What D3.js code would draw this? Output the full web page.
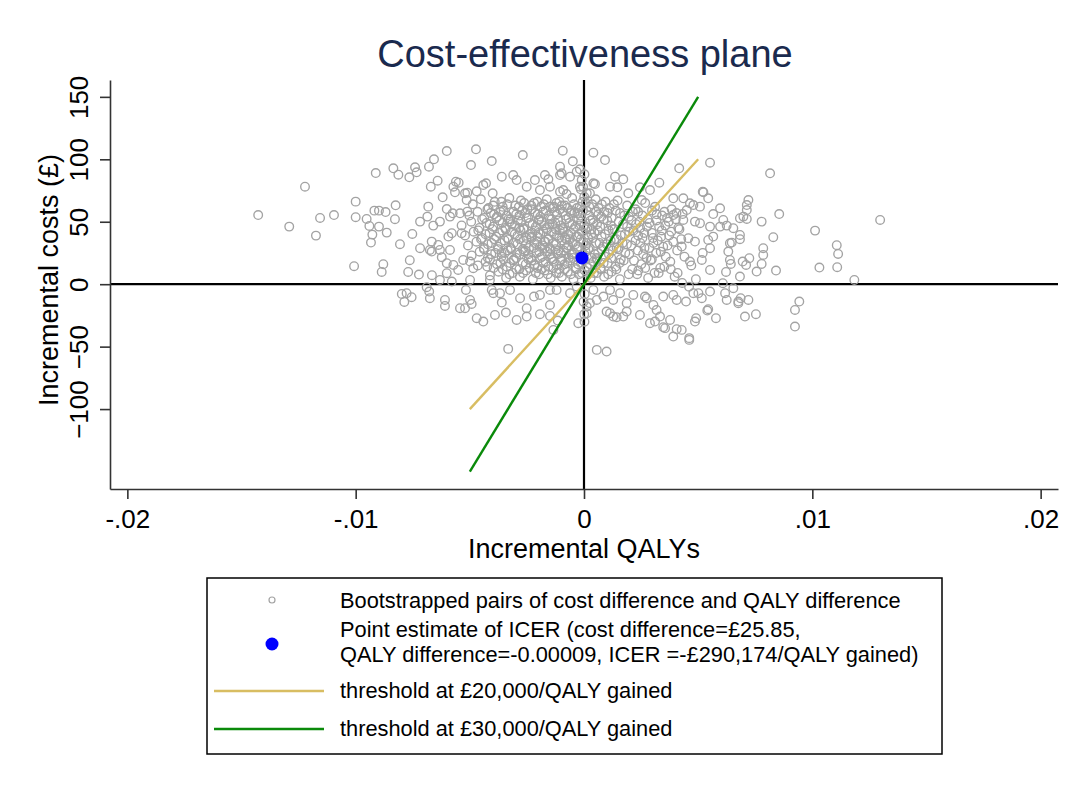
<!DOCTYPE html>
<html>
<head>
<meta charset="utf-8">
<script src="https://cdn.jsdelivr.net/npm/d3@7/dist/d3.min.js"></script>
<style>
  body { margin: 0; background: #fff; }
  svg { font-family: "Liberation Sans", Arial, sans-serif; }
</style>
</head>
<body>
<script>
// ---- data ----
let xTicks = [-0.02, -0.01, 0, 0.01, 0.02];
let xTickLabels = ["-.02", "-.01", "0", ".01", ".02"];
let yTicks = [-100, -50, 0, 50, 100, 150];

let pointEstimate = [-0.00009, 21];

let threshold20 = [[-0.005, -100], [0.005, 100]];
let threshold30 = [[-0.005, -150], [0.005, 150]];

let legendLabels = [
    ["Bootstrapped pairs of cost difference and QALY difference"],
    ["Point estimate of ICER (cost difference=£25.85,", "QALY difference=-0.00009, ICER =-£290,174/QALY gained)"],
    ["threshold at £20,000/QALY gained"],
    ["threshold at £30,000/QALY gained"]
];

// bootstrapped [incremental QALY, incremental cost] pairs
let bootOuter = [
    [-0.01427,55.4],[-0.01222,78.1],[-0.01291,46.1],[-0.01174,38.9],[-0.01156,53.0],[-0.01095,55.4],
    [-0.01000,66.1],[-0.01000,53.6],[-0.00952,52.2],[-0.00940,46.6],[-0.00927,39.7],[-0.00933,33.3],
    [-0.00918,58.9],[-0.00898,58.9],[-0.00869,57.8],[-0.00864,41.3],[-0.00898,46.1],[-0.00825,63.2],
    [-0.00828,52],[-0.00912,89],[-0.00835,92.8],[-0.00813,87.7],[-0.00765,85.6],[-0.00740,93.6],
    [-0.00733,89.6],[-0.00679,94.1],[-0.00657,100],[-0.00601,106.6],[-0.00641,82.9],[-0.00671,78.1],
    [-0.00619,69.6],[-0.00572,78.1],[-0.00561,82.1],[-0.00565,73.6],[-0.00682,62.1],[-0.00601,60.2],
    [-0.00575,56.8],[-0.00587,54.1],[-0.00718,50.1],[-0.00660,46.9],[-0.00631,50.1],[-0.00752,40.2],
    [-0.00806,32],[-0.00718,28.8],[-0.00667,34.1],[-0.00638,31.4],[-0.00594,38.1],[-0.00579,40.8],
    [-0.00675,27.4],[-0.00631,27.4],[-0.00587,27.4],
    [-0.01007,14.4],[-0.00879,16],[-0.00886,9.8],[-0.00763,19.2],[-0.00770,9.8],[-0.00723,7.7],
    [-0.00666,7.2],[-0.00667,26.1],[-0.00623,21.6],[-0.00601,16.8],[-0.00572,15.4],[-0.00601,8.8],
    [-0.00579,2.1],[-0.00798,-7.8],[-0.00777,-7.2],[-0.00755,-10.4],[-0.00787,-14.2],[-0.00689,-2.4],
    [-0.00678,-5.9],[-0.00609,-12.6],[-0.00609,-17.4],[-0.00543,-19.2],
    [-0.00473,108],[-0.00404,98.6],[-0.00495,95.4],[-0.00268,103.4],[-0.00093,106.9],[-0.00049,98.4],
    [-0.00105,94.1],[0.00041,105.3],[0.00092,99.4],[0.00552,97.3],[0.00417,92.8],[0.00815,88.8],
    [-0.00549,81.3],[-0.00511,73.3],[-0.00470,74.4],[-0.00429,80.8],[-0.00400,72.8],[-0.00360,86.1],
    [-0.00310,87.4],[-0.00295,83.4],[-0.00251,78.1],[-0.00215,83.4],[-0.00171,87.4],[-0.00156,84],
    [-0.00149,78.1],[-0.00105,87.4],[-0.00061,86.1],[-0.00032,90.1],[-0.00018,92],[-0.0001,83.4],
    [-0.00018,78.1],[-0.00091,75.4],[0.00041,80.8],[0.00026,72.8],[0.00136,86.1],[0.00172,84],
    [0.00114,78.1],[0.00146,77.6],[0.00245,77.6],[0.00289,75.4],[0.00330,81.3],[0.00194,72.8],
    [0.00391,68.8],[0.00435,68.8],[0.00520,74.1],[0.00544,68.8],[0.00479,63.4],[0.00508,62.1],
    [0.00391,55.4],[0.00432,56.2],[0.00596,60.8],[0.0072,67.4],[0.00713,63.4],[0.00698,54.1],
    [0.00683,52.8],[0.00778,50.1],[0.00855,56.2],[0.00829,37.6],[0.00785,28.8],[0.00785,23.4],
    [0.00756,10.1],[0.00841,10.9],[0.00695,18.1],[0.00639,19.4],[0.00639,32.8],[0.00566,38.1],
    [0.00596,46.1],[0.00625,46.9],[0.00552,46.1],[0.00508,48.8],[0.00516,19.4],[0.00552,11.4],
    [0.00464,18.1],[-0.00686,54.1],[-0.00543,56.8],[-0.00511,58.1],[-0.00536,40.8],[-0.00529,19.4],
    [-0.00499,18.1],[-0.00485,12.8],[-0.00424,14.1],[-0.00551,11.4],[-0.00499,3.4],[-0.00412,3.4],
    [-0.00631,3.4],
    [-0.00675,-11.2],[-0.00517,-4.6],[-0.00499,-12.6],[-0.00521,-19.2],[-0.0047,-27.2],[-0.00441,-29.9],
    [-0.0039,-24.6],[-0.00342,-22.7],[-0.00295,-28.6],[-0.00251,-19.2],[-0.00219,-9.9],[-0.00193,-8.6],
    [-0.00149,-4.6],[-0.00404,-4.6],[-0.00368,-7.2],[-0.00324,-4.6],[-0.0028,-11.2],[-0.00251,-25.9],
    [-0.00025,-31.2],[0.00114,-23.2],[0.00143,-26.4],[0.00187,-21.9],[0.00245,-24.6],[0.00289,-31.2],
    [0.00347,-34.4],[0.00406,-36],[0.00428,-36.6],[0.00391,-41.9],[0.00461,-43.2],[0.00491,-27.2],
    [0.00544,-20],[0.00578,-27.2],[0.00705,-25.9],[0.00753,-24],[0.00924,-20.6],[0.00924,-33.9],
    [0.00943,-13.9],[0.00377,-28.6],[0.00318,-20.6],[0.00516,-11.2],[0.00625,-12.6],[0.00676,-13.9],
    [0.0072,-12.6],[0.00552,-5.9],[0.00479,-7.2],[0.00447,-13.9],[0.00391,-8.6],[0.00347,-9.9],
    [0.00275,-11.2],[0.00216,-8.6],[0.00158,-7.2],[0.00114,-4.6],[0.00056,-12.6],[0.00012,-17.9],
    [-0.00332,-51.8],[0.00056,-52.6],[0.00099,-53.9],[-0.00149,-25.4],[-0.00193,-24],[-0.00115,-29.1],
    [-0.00134,-36.6],[-0.00492,-15.8],[-0.00397,-7.2],[-0.0036,-14.7],[-0.00149,-16.6],[-0.0012,-4.6],
    [-0.00061,-7.2],[-0.00032,-1.9],[0.00012,-23.2],[0.00026,-15.2],[0.00099,-21.9],[0.00128,-25.9],
    [0.00172,-25.9],[0.00187,-15.2],[0.00311,-29.9],[0.00333,-25.9],[0.00355,-35.2],[0.00267,-9.9],
    [0.00304,-16.6],[0.00406,-12.6],[0.00085,-9.9],[0.00128,-12.6],[0.00041,-4.6],
    [0.01113,24.2],[0.01031,13.3],[0.01109,13.6],[0.01184,3.4],[0.00778,16.2],[0.00724,20.8],
    [0.0071,15.4],[0.00683,6.1],[0.00643,16.2],[0.00622,9.8],[0.00608,0.8],[0.00654,-3.2],
    [0.00618,-7.2],[0.00686,-11.2],[0.00676,-15.2],[0.00501,-7.2],[0.0054,-21.1],[0.00486,-29.9],
    [0.00461,-44.6],
    [0.01297,51.4],[0.01012,42.9],[0.01107,31.2],[0.00713,59.4],[0.00713,52.2],[0.00683,39.4],
    [0.00683,36],[0.00647,33.3],[0.00654,44.8],[0.0061,51.4],[0.00566,56.2],[0.00523,73.6],
    [0.00464,64.8],[0.0045,59.4],[0.00435,51.4],[0.00486,50.1],[0.00457,36.8],[0.00486,34.1],
    [0.00544,35.4],[0.00428,30.1],[0.00552,28.8],[0.00632,26.1],
    [-0.00098,88.8],[-0.00014,76],[0.00048,80.2],[0.00012,72.8],[-0.00441,79.4],[-0.00521,72.8],
    [-0.00514,67.4],[-0.00193,75.4],[-0.00105,74.1],[-0.00076,72.2],[0.00253,67.4]
];

let bootCore = [
    [-0.00487,64],[-0.00452,68],[-0.00418,61],[-0.00391,66],[-0.00356,62],[-0.00327,69],[-0.00301,63],
    [-0.00276,67],[-0.00248,60],[-0.00219,65],[-0.00188,62],[-0.00163,68],[-0.00137,61],[-0.00108,66],
    [-0.00084,63],[-0.00052,69],[-0.00031,61],[-0.00006,66],[0.00023,62],[0.00051,68],[0.00078,64],
    [0.00112,61],[0.00147,67],[0.00189,63],[0.00226,60],[0.00268,65],[0.00311,62],[0.00352,58],
    [-0.00502,55],[-0.00466,58],[-0.00437,53],[-0.00409,57],[-0.00381,54],[-0.00352,59],[-0.00322,52],
    [-0.00297,56],[-0.00271,59],[-0.00243,53],[-0.00214,57],[-0.00192,54],[-0.00167,59],[-0.00141,52],
    [-0.00119,56],[-0.00093,58],[-0.00068,53],[-0.00042,57],[-0.00017,55],[0.00011,59],[0.00038,52],
    [0.00063,56],[0.00089,58],[0.00121,53],[0.00158,57],[0.00197,54],[0.00237,58],[0.00279,52],
    [0.00318,56],[0.00364,53],[0.00405,57],
    [-0.00536,47],[-0.00494,50],[-0.00458,45],[-0.00427,49],[-0.00398,46],[-0.00371,51],[-0.00343,44],
    [-0.00316,48],[-0.00289,51],[-0.00262,45],[-0.00238,49],[-0.00211,46],[-0.00186,50],[-0.00162,44],
    [-0.00138,48],[-0.00113,51],[-0.00091,45],[-0.00064,49],[-0.00038,46],[-0.00013,50],[0.00014,45],
    [0.00042,49],[0.00071,46],[0.00102,51],[0.00134,44],[0.00171,48],[0.00208,51],[0.00246,45],
    [0.00287,49],[0.00329,46],[0.00371,50],[0.00418,44],
    [-0.00521,39],[-0.00483,42],[-0.00447,37],[-0.00414,41],[-0.00385,38],[-0.00358,43],[-0.00331,36],
    [-0.00303,40],[-0.00278,43],[-0.00252,37],[-0.00227,41],[-0.00203,38],[-0.00178,42],[-0.00154,36],
    [-0.00131,40],[-0.00106,43],[-0.00083,37],[-0.00057,41],[-0.00034,38],[-0.00009,42],[0.00018,37],
    [0.00046,41],[0.00077,38],[0.00108,43],[0.00142,36],[0.00179,40],[0.00217,43],[0.00256,37],
    [0.00297,41],[0.00338,38],[0.00382,42],[0.00426,36],
    [-0.00508,31],[-0.00471,34],[-0.00439,29],[-0.00405,33],[-0.00377,30],[-0.00348,35],[-0.00319,28],
    [-0.00292,32],[-0.00266,35],[-0.00241,29],[-0.00216,33],[-0.00193,30],[-0.00169,34],[-0.00146,28],
    [-0.00122,32],[-0.00098,35],[-0.00075,29],[-0.00049,33],[-0.00026,30],[-0.00003,34],[0.00025,29],
    [0.00053,33],[0.00084,30],[0.00117,35],[0.00151,28],[0.00188,32],[0.00226,35],[0.00265,29],
    [0.00304,33],[0.00347,30],[0.00391,34],
    [-0.00492,23],[-0.00457,26],[-0.00421,21],[-0.00389,25],[-0.00361,22],[-0.00334,27],[-0.00307,20],
    [-0.00282,24],[-0.00257,27],[-0.00232,21],[-0.00208,25],[-0.00184,22],[-0.00161,26],[-0.00137,20],
    [-0.00114,24],[-0.00089,27],[-0.00066,21],[-0.00043,25],[-0.00018,22],[0.00007,26],[0.00034,21],
    [0.00062,25],[0.00093,22],[0.00126,27],[0.00161,20],[0.00198,24],[0.00236,27],[0.00274,21],
    [0.00316,25],[0.00358,22],
    [-0.00465,15],[-0.00431,18],[-0.00396,13],[-0.00366,17],[-0.00338,14],[-0.00309,19],[-0.00283,12],
    [-0.00255,16],[-0.00229,19],[-0.00204,13],[-0.00179,17],[-0.00156,14],[-0.00132,18],[-0.00109,12],
    [-0.00085,16],[-0.00061,19],[-0.00037,13],[-0.00014,17],[0.00012,14],[0.00041,18],[0.00072,13],
    [0.00104,17],[0.00138,14],[0.00174,19],[0.00211,12],[0.00251,16],[0.00292,19],[0.00334,13],
    [-0.00412,7],[-0.00374,10],[-0.00341,5],[-0.00312,9],[-0.00281,6],[-0.00253,11],[-0.00224,4],
    [-0.00197,8],[-0.00172,11],[-0.00146,5],[-0.00121,9],[-0.00097,6],[-0.00071,10],[-0.00046,4],
    [-0.00022,8],[0.00003,11],[0.00029,5],[0.00057,9],[0.00088,6],[0.00121,10],[0.00157,4],
    [0.00196,8],[0.00238,11],[0.00281,5],[0.00327,9],
    [-0.00284,45],[-0.00231,38],[-0.00196,52],[-0.00152,29],[-0.00124,44],[-0.00077,36],[-0.00049,24],
    [-0.00021,47],[0.00008,31],[-0.00263,26],[-0.00174,34],[-0.00103,19],[-0.00058,57],[-0.00131,62],
    [-0.00217,15],[-0.00326,50],[-0.00088,42],[-0.00027,38],[0.00032,44],[0.00058,20],[-0.00361,25],
    [-0.00199,41],[-0.00152,48],[-0.00112,27],[-0.00069,31],
    [0.00002,88],[-0.00004,78],[0.00001,70],[0.00003,-8],[-0.00002,-14],[0.00001,-24],[0.00002,-30],
    [0.0044,22],[0.0047,15],[0.0041,9],[0.0049,4],[0.0052,25],[0.0038,12],[0.0043,1],[0.0046,-2]
];

// the densest part of the cloud, between roughly -.0045 and .004 QALYs
let bootDense = [
    [-0.00398,63],[-0.00362,66],[-0.00336,64],[-0.00285,62],[-0.00262,65],[-0.00231,63],[-0.00204,66],
    [-0.00176,64],[-0.00149,62],[-0.00121,65],[-0.00097,63],[-0.00073,61],[-0.00044,64],[-0.00019,62],
    [0.00008,65],[0.00036,64],[0.00064,61],[0.00094,66],[0.00131,64],
    [-0.00423,60],[-0.00394,56],[-0.00366,58],[-0.00338,55],[-0.00309,58],[-0.00283,55],[-0.00256,57],
    [-0.00229,60],[-0.00203,56],[-0.00179,58],[-0.00154,55],[-0.00128,58],[-0.00105,60],[-0.00081,55],
    [-0.00055,59],[-0.00029,57],[-0.00004,59],[0.00024,55],[0.00052,58],[0.00076,54],[0.00104,57],
    [0.00139,59],[0.00176,55],
    [-0.00446,52],[-0.00413,48],[-0.00384,53],[-0.00357,49],[-0.00331,52],[-0.00302,47],[-0.00276,50],
    [-0.00251,53],[-0.00225,48],[-0.00199,51],[-0.00174,47],[-0.00149,52],[-0.00126,49],[-0.00102,47],
    [-0.00078,52],[-0.00051,48],[-0.00025,52],[0.00002,47],[0.00029,51],[0.00057,48],[0.00086,52],
    [0.00118,47],[0.00152,50],[0.00189,46],[0.00228,48],
    [-0.00463,43],[-0.00431,40],[-0.00401,44],[-0.00372,41],[-0.00345,45],[-0.00317,42],[-0.00291,39],
    [-0.00265,44],[-0.00239,40],[-0.00214,43],[-0.00191,40],[-0.00166,45],[-0.00142,42],[-0.00118,39],
    [-0.00094,44],[-0.00069,40],[-0.00045,44],[-0.00021,40],[0.00006,44],[0.00032,40],[0.00061,43],
    [0.00092,40],[0.00125,44],[0.00161,39],[0.00198,42],[0.00237,39],
    [-0.00451,36],[-0.00421,32],[-0.00393,36],[-0.00364,33],[-0.00336,37],[-0.00308,33],[-0.00281,36],
    [-0.00255,32],[-0.00229,37],[-0.00205,34],[-0.00181,31],[-0.00157,36],[-0.00133,33],[-0.00109,37],
    [-0.00086,32],[-0.00062,36],[-0.00038,32],[-0.00014,36],[0.00012,33],[0.00039,37],[0.00068,33],
    [0.00099,32],[0.00133,36],[0.00169,33],[0.00207,31],
    [-0.00438,28],[-0.00406,24],[-0.00376,28],[-0.00347,25],[-0.00321,29],[-0.00293,25],[-0.00268,28],
    [-0.00244,24],[-0.00219,29],[-0.00196,26],[-0.00172,29],[-0.00148,24],[-0.00125,28],[-0.00101,25],
    [-0.00078,29],[-0.00054,24],[-0.00031,28],[-0.00007,24],[0.00019,28],[0.00047,24],[0.00077,28],
    [0.00109,24],[0.00143,29],[0.00181,25],
    [-0.00412,20],[-0.00381,16],[-0.00352,20],[-0.00324,17],[-0.00297,21],[-0.00269,17],[-0.00243,20],
    [-0.00217,16],[-0.00192,21],[-0.00168,18],[-0.00144,21],[-0.00121,16],[-0.00097,20],[-0.00073,17],
    [-0.00049,21],[-0.00026,16],[-0.00001,20],[0.00026,16],[0.00055,21],[0.00086,17],[0.00119,21],
    [0.00156,17],
    [-0.00356,12],[-0.00326,8],[-0.00296,12],[-0.00267,9],[-0.00238,13],[-0.00211,9],[-0.00185,12],
    [-0.00159,8],[-0.00134,13],[-0.00109,9],[-0.00084,12],[-0.00058,8],[-0.00034,12],[-0.00009,9],
    [0.00017,13],[0.00044,9],[0.00074,12],[0.00106,8],[0.00142,12],
    [0.00214,58],[0.00256,55],[0.00298,59],[0.00342,55],[0.00384,60],[0.00243,50],[0.00276,46],
    [0.00318,51],[0.00356,47],[0.00402,52],[0.00264,41],[0.00302,37],[0.00341,43],[0.00373,39],
    [0.00413,45],[0.00247,33],[0.00286,29],[0.00323,35],[0.00366,31],[0.00408,27],[0.00219,19],
    [0.00259,24],[0.00297,20],[0.00336,26],[0.00378,18],[0.00233,8],[0.00268,13],[0.00309,9],
    [0.00352,14],[0.00397,6]
];

let bootstrapPairs = bootOuter.concat(bootCore, bootDense);

// ---- layout ----
let svg, x, y;
const W = 1085, H = 787;
const plot = {left: 110, right: 1058, top: 80, bottom: 489};

appendSvg("body");
setupScales();
appendZeroLines();
appendAxes();
appendPoints();
appendThresholds();
appendTitles();
appendLegend();

function appendSvg(domElement) {
    svg = d3.select(domElement).append("svg")
        .attr("width", W)
        .attr("height", H);
    svg.append("rect").attr("width", W).attr("height", H).attr("fill", "#fff");
}

function setupScales() {
    x = d3.scaleLinear().domain([-0.02076, 0.02076]).range([plot.left, plot.right]);
    y = d3.scaleLinear().domain([-164, 163.5]).range([plot.bottom, plot.top]);
}

function appendZeroLines() {
    svg.append("line")
        .attr("x1", plot.left).attr("x2", plot.right)
        .attr("y1", y(0)).attr("y2", y(0))
        .attr("stroke", "#000").attr("stroke-width", 2.2);
    svg.append("line")
        .attr("x1", x(0)).attr("x2", x(0))
        .attr("y1", plot.top).attr("y2", plot.bottom)
        .attr("stroke", "#000").attr("stroke-width", 2.2);
}

function appendAxes() {
    let gx = svg.append("g")
        .attr("transform", `translate(0, ${plot.bottom})`)
        .call(d3.axisBottom(x).tickValues(xTicks)
            .tickFormat((d, i) => xTickLabels[i]).tickSize(10).tickSizeOuter(0));
    gx.selectAll("text").attr("y", 39).attr("dy", null)
        .attr("font-size", 26).attr("fill", "#000");

    let gy = svg.append("g")
        .attr("transform", `translate(${plot.left}, 0)`)
        .call(d3.axisLeft(y).tickValues(yTicks).tickSize(10).tickSizeOuter(0));
    gy.selectAll("text")
        .attr("x", null).attr("dy", null)
        .attr("text-anchor", "middle")
        .attr("transform", "translate(-22,0) rotate(-90)")
        .attr("font-size", 26).attr("fill", "#000");

    svg.selectAll(".domain, .tick line")
        .attr("stroke", "#333").attr("stroke-width", 1.6);
}

function appendPoints() {
    svg.append("g").selectAll("circle")
        .data(bootstrapPairs)
        .enter().append("circle")
        .attr("cx", d => x(d[0]))
        .attr("cy", d => y(d[1]))
        .attr("r", 4.3)
        .attr("fill", "none")
        .attr("stroke", "#a3a3a3")
        .attr("stroke-width", 1.35);
}

function appendThresholds() {
    let line = d3.line().x(d => x(d[0])).y(d => y(d[1]));
    svg.append("path").datum(threshold20)
        .attr("d", line).attr("stroke", "#d8bd62").attr("stroke-width", 2.4).attr("fill", "none");
    svg.append("path").datum(threshold30)
        .attr("d", line).attr("stroke", "#0a8a0a").attr("stroke-width", 2.4).attr("fill", "none");
    svg.append("circle")
        .attr("cx", x(pointEstimate[0])).attr("cy", y(pointEstimate[1]))
        .attr("r", 6.5).attr("fill", "#0000ff");
}

function appendTitles() {
    svg.append("text")
        .attr("x", 585).attr("y", 67)
        .attr("text-anchor", "middle")
        .attr("font-size", 38).attr("fill", "#1a2a4e")
        .text("Cost-effectiveness plane");
    svg.append("text")
        .attr("x", 584).attr("y", 558)
        .attr("text-anchor", "middle")
        .attr("font-size", 27)
        .text("Incremental QALYs");
    svg.append("text")
        .attr("transform", "translate(58, 280) rotate(-90)")
        .attr("text-anchor", "middle")
        .attr("font-size", 27)
        .text("Incremental costs (£)");
}

function appendLegend() {
    let box = {x: 207, y: 578, w: 735, h: 176};
    svg.append("rect")
        .attr("x", box.x).attr("y", box.y)
        .attr("width", box.w).attr("height", box.h)
        .attr("fill", "#fff").attr("stroke", "#000").attr("stroke-width", 1.5);

    let keyX = 272, textX = 340;
    let rowY = [600, 644, 691, 729];
    let baselines = [[608], [637, 662], [698], [736]];

    svg.append("circle").attr("cx", keyX).attr("cy", rowY[0]).attr("r", 3)
        .attr("fill", "none").attr("stroke", "#a3a3a3").attr("stroke-width", 1.2);
    svg.append("circle").attr("cx", keyX).attr("cy", rowY[1]).attr("r", 6.5).attr("fill", "#0000ff");
    svg.append("line").attr("x1", 214).attr("x2", 324).attr("y1", rowY[2]).attr("y2", rowY[2])
        .attr("stroke", "#d8bd62").attr("stroke-width", 2.4);
    svg.append("line").attr("x1", 214).attr("x2", 324).attr("y1", rowY[3]).attr("y2", rowY[3])
        .attr("stroke", "#0a8a0a").attr("stroke-width", 2.4);

    legendLabels.forEach((lines, i) => {
        lines.forEach((t, j) => {
            svg.append("text")
                .attr("x", textX).attr("y", baselines[i][j])
                .attr("font-size", 21.8)
                .text(t);
        });
    });
}
</script>
</body>
</html>
